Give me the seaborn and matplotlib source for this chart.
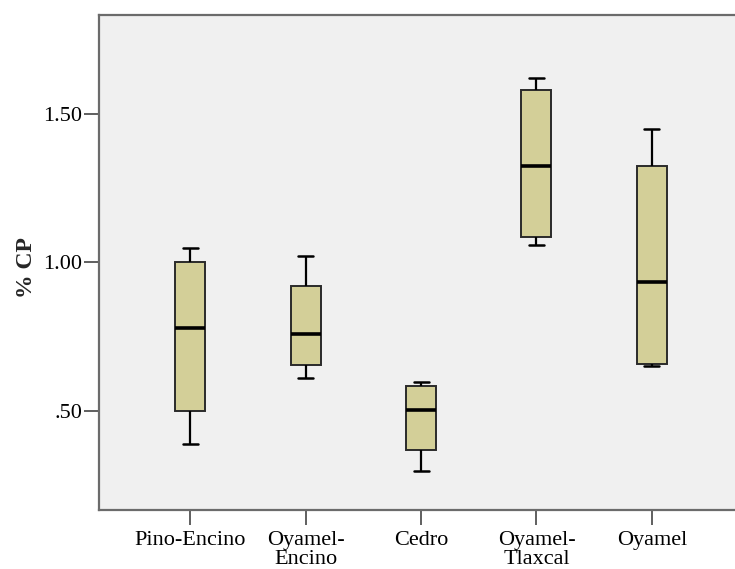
import numpy as np
import pandas as pd
import matplotlib
matplotlib.use("Agg")
import matplotlib.pyplot as plt
import seaborn as sns

# Five-number summaries (min, Q1, median, Q3, max)
grupos = ["Pino-Encino", "Oyamel-\nEncino", "Cedro", "Oyamel-\nTlaxcal", "Oyamel"]
pino_encino = [0.389, 0.498, 0.778, 1.000, 1.050]
oyamel_encino = [0.609, 0.653, 0.758, 0.920, 1.020]
cedro = [0.297, 0.367, 0.503, 0.583, 0.598]
oyamel_tlaxcal = [1.060, 1.085, 1.324, 1.581, 1.621]
oyamel = [0.650, 0.658, 0.935, 1.324, 1.450]

y_ticks = [0.5, 1.0, 1.5]
y_tick_labels = [".50", "1.00", "1.50"]

sns.set_theme(style="white")
plt.rcParams["font.family"] = ["Liberation Serif", "DejaVu Serif"]

df = pd.DataFrame({
    "grupo": np.repeat(grupos, 5),
    "cp": np.concatenate([pino_encino, oyamel_encino, cedro, oyamel_tlaxcal, oyamel]),
})

fig = plt.figure(figsize=(7.35, 5.69), dpi=100)
ax = fig.add_axes([0.1347, 0.1037, 0.8653, 0.8699])
ax.set_facecolor("#F0F0F0")

sns.boxplot(data=df, x="grupo", y="cp", order=grupos, ax=ax, whis=(0, 100),
            width=0.26, color="#D3CF98", saturation=1, linecolor="#2a2a2a",
            linewidth=1.4, showfliers=False,
            medianprops={"color": "black", "linewidth": 2.6},
            whiskerprops={"color": "black", "linewidth": 1.6},
            capprops={"color": "black", "linewidth": 1.8})

ax.set_xlim(-0.79, 4.72)
ax.set_ylim(0.165, 1.834)
ax.set_yticks(y_ticks)
ax.set_yticklabels(y_tick_labels)

ax.set_xlabel("")
ax.set_ylabel("% CP", fontsize=17, fontweight="bold")
ax.yaxis.set_label_coords(-0.097, 0.49)
ax.tick_params(axis="both", which="both", direction="out", length=11,
               width=1.2, color="#444444", labelsize=16, labelcolor="black",
               left=True, bottom=True, pad=1)
ax.tick_params(axis="x", pad=4)
for lbl in ax.get_xticklabels():
    lbl.set_linespacing(1.0)

for side in ["left", "top", "bottom"]:
    ax.spines[side].set_color("#6b6b6b")
    ax.spines[side].set_linewidth(1.6)
ax.spines["right"].set_visible(False)

fig.savefig("out.png", dpi=100)
